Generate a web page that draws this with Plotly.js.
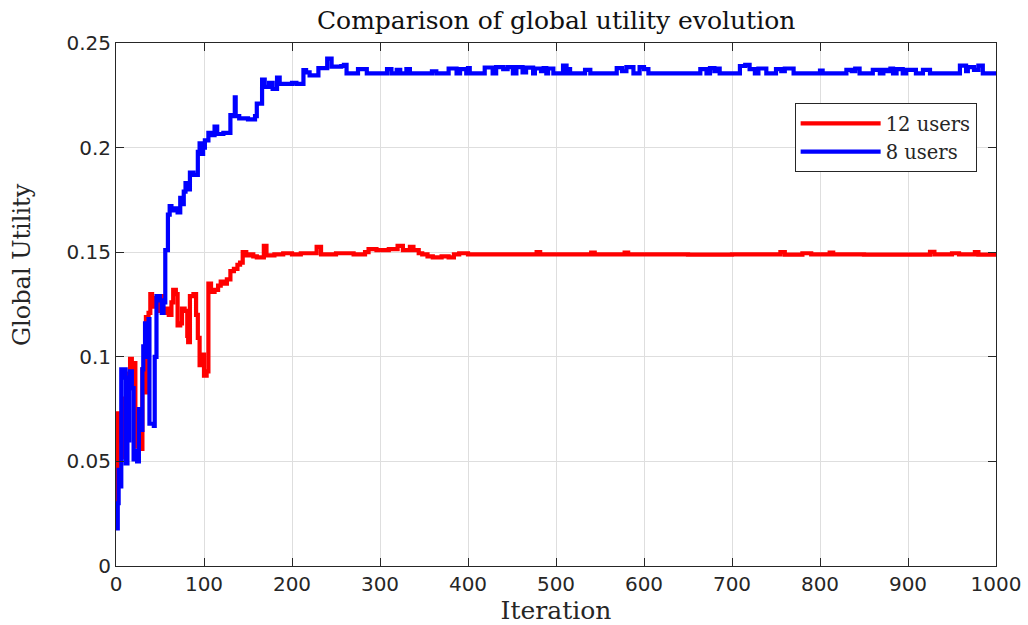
<!DOCTYPE html>
<html>
<head>
<meta charset="utf-8">
<script src="https://cdn.plot.ly/plotly-3.0.1.min.js"></script>
<style>html,body{margin:0;padding:0;background:#fff;}#chart{width:1028px;height:625px;}</style>
</head>
<body>
<div id="chart"></div>
<script>
const redIter = [0,1,2,4,6,8,10,12,14,16,18,20,22,25,27,30,32,34,37,39,41,44,47,50,53,56,60,63,65,68,70,73,75,78,81,82,84,88,91,93,95,98,100,103,105,108,112,116,119,123,126,130,134,138,141,144,148,152,156,160,168,171,180,190,200,210,228,233,250,270,283,287,296,310,320,326,334,338,344,348,354,360,370,378,384,390,400,430,478,482,540,544,578,582,650,700,755,760,780,790,811,815,850,925,930,950,958,976,980,1000];
const redVals = [0.022,0.048,0.073,0.060,0.066,0.052,0.080,0.070,0.092,0.099,0.085,0.097,0.057,0.062,0.056,0.094,0.083,0.119,0.121,0.130,0.124,0.128,0.122,0.129,0.121,0.123,0.120,0.126,0.132,0.130,0.115,0.116,0.123,0.122,0.110,0.107,0.129,0.130,0.120,0.109,0.096,0.101,0.091,0.093,0.135,0.131,0.132,0.134,0.136,0.135,0.137,0.141,0.142,0.144,0.145,0.150,0.1485,0.149,0.148,0.1475,0.153,0.1485,0.149,0.1495,0.149,0.1495,0.1525,0.149,0.1495,0.149,0.150,0.1515,0.151,0.1515,0.153,0.151,0.1525,0.151,0.1495,0.149,0.148,0.1475,0.148,0.1475,0.149,0.1495,0.149,0.149,0.150,0.149,0.1498,0.149,0.1498,0.149,0.1488,0.149,0.150,0.1488,0.1495,0.149,0.1498,0.149,0.1488,0.1502,0.149,0.1495,0.149,0.150,0.1488,0.1485];

const blueIter = [0,2,3,5,6,8,10,11,13,15,16,18,20,22,24,26,28,30,31,33,35,37,38,43,44,46,50,52,54,56,59,61,63,66,70,73,75,77,79,82,84,88,93,95,97,99,101,105,109,112,115,122,130,133,135,136,140,145,150,158,160,166,169,174,178,183,186,200,205,213,216,220,230,240,245,256,259,262,275,285,308,313,319,323,330,334,359,364,378,387,391,398,400,402,419,428,432,440,445,451,455,462,466,474,476,483,486,489,491,497,508,512,514,516,533,539,569,575,580,588,595,600,605,664,671,675,680,684,686,709,715,720,726,730,739,750,756,760,770,800,803,830,836,840,845,860,868,872,876,880,883,887,894,898,909,917,925,959,966,968,975,980,985,1000];
const blueVals = [0.018,0.030,0.046,0.038,0.094,0.090,0.094,0.049,0.060,0.090,0.093,0.085,0.051,0.055,0.050,0.075,0.065,0.094,0.105,0.116,0.100,0.118,0.068,0.067,0.100,0.129,0.127,0.121,0.126,0.151,0.168,0.172,0.170,0.171,0.169,0.176,0.173,0.179,0.183,0.180,0.188,0.187,0.198,0.202,0.197,0.200,0.2035,0.207,0.206,0.210,0.2065,0.207,0.2155,0.215,0.224,0.215,0.214,0.214,0.2135,0.215,0.221,0.2325,0.229,0.231,0.228,0.2335,0.2305,0.231,0.2305,0.237,0.236,0.2345,0.238,0.2425,0.2387,0.239,0.2395,0.2355,0.2375,0.2355,0.2375,0.2355,0.2372,0.2355,0.2375,0.2355,0.2365,0.2355,0.2378,0.2355,0.2375,0.2355,0.238,0.2355,0.2383,0.2355,0.2385,0.2375,0.2385,0.2355,0.2385,0.236,0.2382,0.2355,0.2378,0.2365,0.238,0.2355,0.2378,0.2355,0.2392,0.2355,0.2375,0.2355,0.2372,0.2355,0.238,0.2365,0.2385,0.2355,0.2385,0.2375,0.2355,0.2375,0.2355,0.238,0.2365,0.2378,0.2355,0.239,0.2395,0.2375,0.2355,0.2378,0.2355,0.2375,0.2365,0.2378,0.2355,0.2368,0.2355,0.2372,0.2365,0.2378,0.2355,0.2372,0.2355,0.2372,0.2365,0.2378,0.2355,0.2375,0.2355,0.2372,0.2355,0.2372,0.2355,0.2392,0.2365,0.2385,0.2372,0.2392,0.2355,0.2355];

const seriesNames = ['12 users', '8 users'];
const xTicks = [0,100,200,300,400,500,600,700,800,900,1000];
const yTicks = [0,0.05,0.1,0.15,0.2,0.25];
const yTickText = ['0','0.05','0.1','0.15','0.2','0.25'];

const traces = [
  {x: redIter, y: redVals, name: seriesNames[0], mode: 'lines', line: {color: '#ff0000', width: 4.2, shape: 'hv'}},
  {x: blueIter, y: blueVals, name: seriesNames[1], mode: 'lines', line: {color: '#0000ff', width: 4.2, shape: 'hv'}}
];

const axisCommon = {
  showline: true, linecolor: '#262626', linewidth: 1, mirror: 'allticks',
  ticks: 'inside', ticklen: 8, tickcolor: '#262626', tickwidth: 1,
  showgrid: true, gridcolor: '#dedede', gridwidth: 1, zeroline: false,
  tickfont: {family: 'DejaVu Sans, sans-serif', size: 20, color: '#262626'}
};

const layout = {
  width: 1028, height: 625,
  margin: {l: 116, r: 32, t: 43, b: 59},
  paper_bgcolor: '#fff', plot_bgcolor: '#fff',
  title: {text: 'Comparison of global utility evolution', x: 0.541, xanchor: 'center', y: 0.968, yanchor: 'middle',
          font: {family: 'DejaVu Serif, serif', size: 25, color: '#111'}},
  xaxis: Object.assign({}, axisCommon, {range: [0, 1000], tickvals: xTicks, ticktext: xTicks.map(String),
          title: {text: 'Iteration', standoff: 4, font: {family: 'DejaVu Serif, serif', size: 25, color: '#262626'}}}),
  yaxis: Object.assign({}, axisCommon, {range: [0, 0.25], tickvals: yTicks, ticktext: yTickText}),
  annotations: [{text: 'Global Utility', xref: 'paper', yref: 'paper', x: -0.107, y: 0.577, xanchor: 'center', yanchor: 'middle',
          textangle: -90, showarrow: false, font: {family: 'DejaVu Serif, serif', size: 24, color: '#262626'}}],
  showlegend: true,
  legend: {x: 0.978, xanchor: 'right', y: 0.885, yanchor: 'top', bgcolor: '#fff', bordercolor: '#262626', borderwidth: 1,
           itemwidth: 80, tracegroupgap: 0,
           font: {family: 'DejaVu Serif, serif', size: 19.5, color: '#262626'}}
};

Plotly.newPlot('chart', traces, layout, {displayModeBar: false, staticPlot: true});
</script>
</body>
</html>
